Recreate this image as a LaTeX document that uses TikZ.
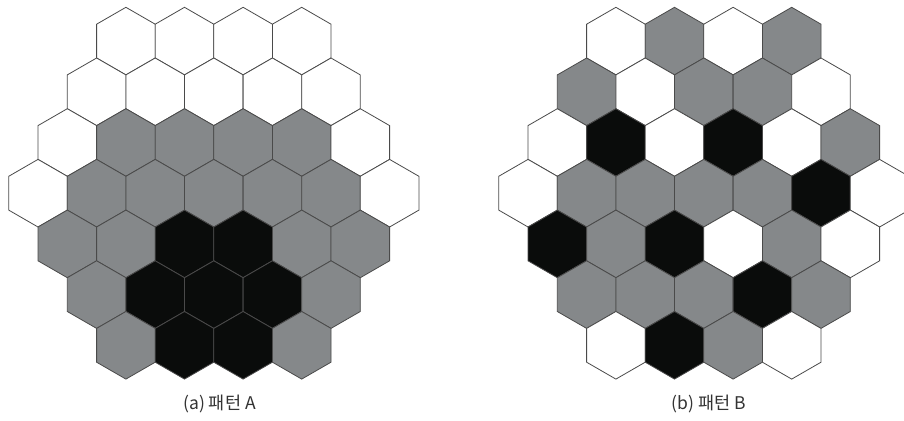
\documentclass[tikz,border=0pt]{standalone}
\usepackage{fontspec}
\newfontfamily\krfont{Noto Sans CJK KR}
\definecolor{hw}{HTML}{FFFFFF}
\definecolor{hg}{HTML}{85888A}
\definecolor{hb}{HTML}{0A0C0B}
\definecolor{edgecol}{HTML}{4A4A4A}
\definecolor{labelcol}{HTML}{333333}
\newcommand\hexgrid[3]{%
  \foreach \r/\lst in {#3} {
    \pgfmathsetmacro\nn{7-abs(\r-3)}
    \foreach \c [count=\i from 0] in \lst {
      \pgfmathsetmacro\xx{#1+(\i-(\nn-1)/2)*58.6}
      \pgfmathsetmacro\yy{#2+(\r-3)*50.7}
      \filldraw[hexcell, fill=h\c] (\xx,\yy-33.8) -- ++(29.3,16.9) -- ++(0,33.8) -- ++(-29.3,16.9) -- ++(-29.3,-16.9) -- ++(0,-33.8) -- cycle;
    }
  }%
}
\begin{document}
\begin{tikzpicture}[x=1pt,y=-1pt,
  hexcell/.style={draw=edgecol,line width=0.8pt,line join=miter},
  caption/.style={text=labelcol,font=\krfont\fontsize{17.5}{20}\selectfont,inner sep=0pt}]
\useasboundingbox (0,0) rectangle (904,420);
\clip (0,0) rectangle (904,420);
\fill[white] (0,0) rectangle (904,420);
\hexgrid{213.8}{193.2}{
  0/{w,w,w,w},
  1/{w,w,w,w,w},
  2/{w,g,g,g,g,w},
  3/{w,g,g,g,g,g,w},
  4/{g,g,b,b,g,g},
  5/{g,b,b,b,g},
  6/{g,b,b,g}}
\hexgrid{703.8}{193.2}{
  0/{w,g,w,g},
  1/{g,w,g,g,w},
  2/{w,b,w,b,w,g},
  3/{w,g,g,g,g,b,w},
  4/{b,g,b,w,g,w},
  5/{g,g,g,b,g},
  6/{w,b,g,w}}
\node[caption] (capA) at (219.5,404) {(a) 패턴 A};
\node[caption] (capB) at (709,404) {(b) 패턴 B};
\end{tikzpicture}
\end{document}
